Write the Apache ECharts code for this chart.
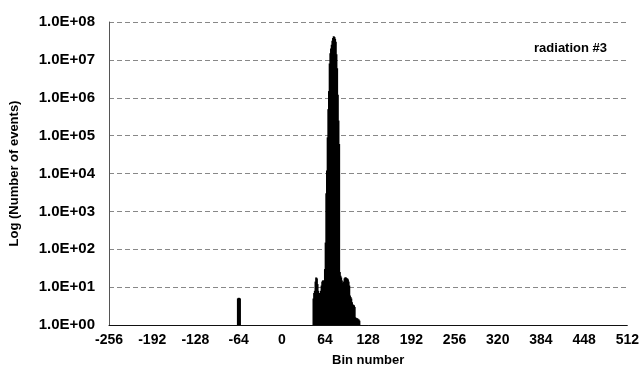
<!DOCTYPE html>
<html>
<head>
<meta charset="utf-8">
<script src="https://cdn.jsdelivr.net/npm/echarts@6/dist/echarts.min.js"></script>
<style>
  html, body { margin: 0; padding: 0; background: #fff; }
  #chart { width: 642px; height: 374px; }
</style>
</head>
<body>
<div id="chart"></div>
<script>
// bin numbers and counts
var bins = [-65, -64, -63, -62,
    47, 48, 49, 50, 51, 52, 53, 54, 55, 56, 57, 58, 59, 60, 61, 62, 63, 64,
    65, 66, 67, 68, 69, 70, 71, 72, 73, 74, 75, 76, 77, 78, 79, 80, 81, 82,
    83, 84, 85, 86, 87, 88, 89, 90, 91, 92, 93, 94, 95, 96, 97, 98, 99, 100,
    101, 102, 103, 104, 105, 106, 107, 108, 109, 110, 111, 112, 113, 114, 115];
var counts = [5, 5.2, 5.2, 5,
    5, 7, 8, 14, 18, 17, 12, 8, 7, 7, 7, 8, 11, 14, 15, 15, 14, 30,
    150, 3000, 12000, 90000, 500000, 1500000, 8000000, 15000000, 20000000, 25000000,
    32000000, 38000000, 42000000, 40000000, 36000000, 30000000, 14000000, 6000000,
    1200000, 250000, 60000, 25, 20, 18, 15, 13, 12, 14, 17, 18, 18, 17, 17, 16, 14, 11,
    6, 5.5, 5, 4, 3.5, 3.4, 3.3, 3, 1.6, 1.5, 1.5, 1.5, 1.4, 1.4, 1.3];
var xTicks = [-256, 512, 64];   // min, max, step
var yRange = [1, 1e8];

var mychart = echarts.init(document.getElementById('chart'));

var pts = [];
for (var i = 0; i < bins.length; i++) {
    pts.push([bins[i], counts[i]]);
}

function sciLabel(v) {
    var e = Math.round(Math.log10(v));
    return '1.0E+' + (e < 10 ? '0' + e : e);
}

var option = {
    animation: false,
    backgroundColor: '#fff',
    textStyle: { fontFamily: 'Liberation Sans, Arial, sans-serif' },
    grid: { left: 104, right: 13, top: 22, bottom: 49 },
    title: {
        text: 'radiation #3',
        right: 30,
        top: 37,
        textStyle: { fontSize: 13, fontWeight: 'bold', color: '#000' }
    },
    xAxis: {
        type: 'value',
        min: xTicks[0],
        max: xTicks[1],
        interval: xTicks[2],
        name: 'Bin number',
        nameLocation: 'middle',
        nameGap: 29,
        nameTextStyle: { fontSize: 13, fontWeight: 'bold', color: '#000' },
        axisLine: { lineStyle: { color: '#111', width: 1 } },
        axisTick: { show: false },
        axisLabel: { fontSize: 14, fontWeight: 'bold', color: '#000', margin: 8 },
        splitLine: { show: false }
    },
    yAxis: {
        type: 'log',
        logBase: 10,
        min: yRange[0],
        max: yRange[1],
        name: 'Log (Number of events)',
        nameLocation: 'middle',
        nameGap: 88,
        nameTextStyle: { fontSize: 13, fontWeight: 'bold', color: '#000' },
        axisLine: { show: true, onZero: false, lineStyle: { color: '#555', width: 1 } },
        axisTick: { show: false },
        axisLabel: {
            fontSize: 15, fontWeight: 'bold', color: '#000', margin: 14,
            formatter: sciLabel
        },
        splitLine: { show: true, lineStyle: { color: '#888', type: [5, 3], width: 1 } }
    },
    series: [{
        type: 'bar',
        data: pts,
        barWidth: 2,
        itemStyle: { color: '#000' }
    }]
};
mychart.setOption(option);
</script>
</body>
</html>
